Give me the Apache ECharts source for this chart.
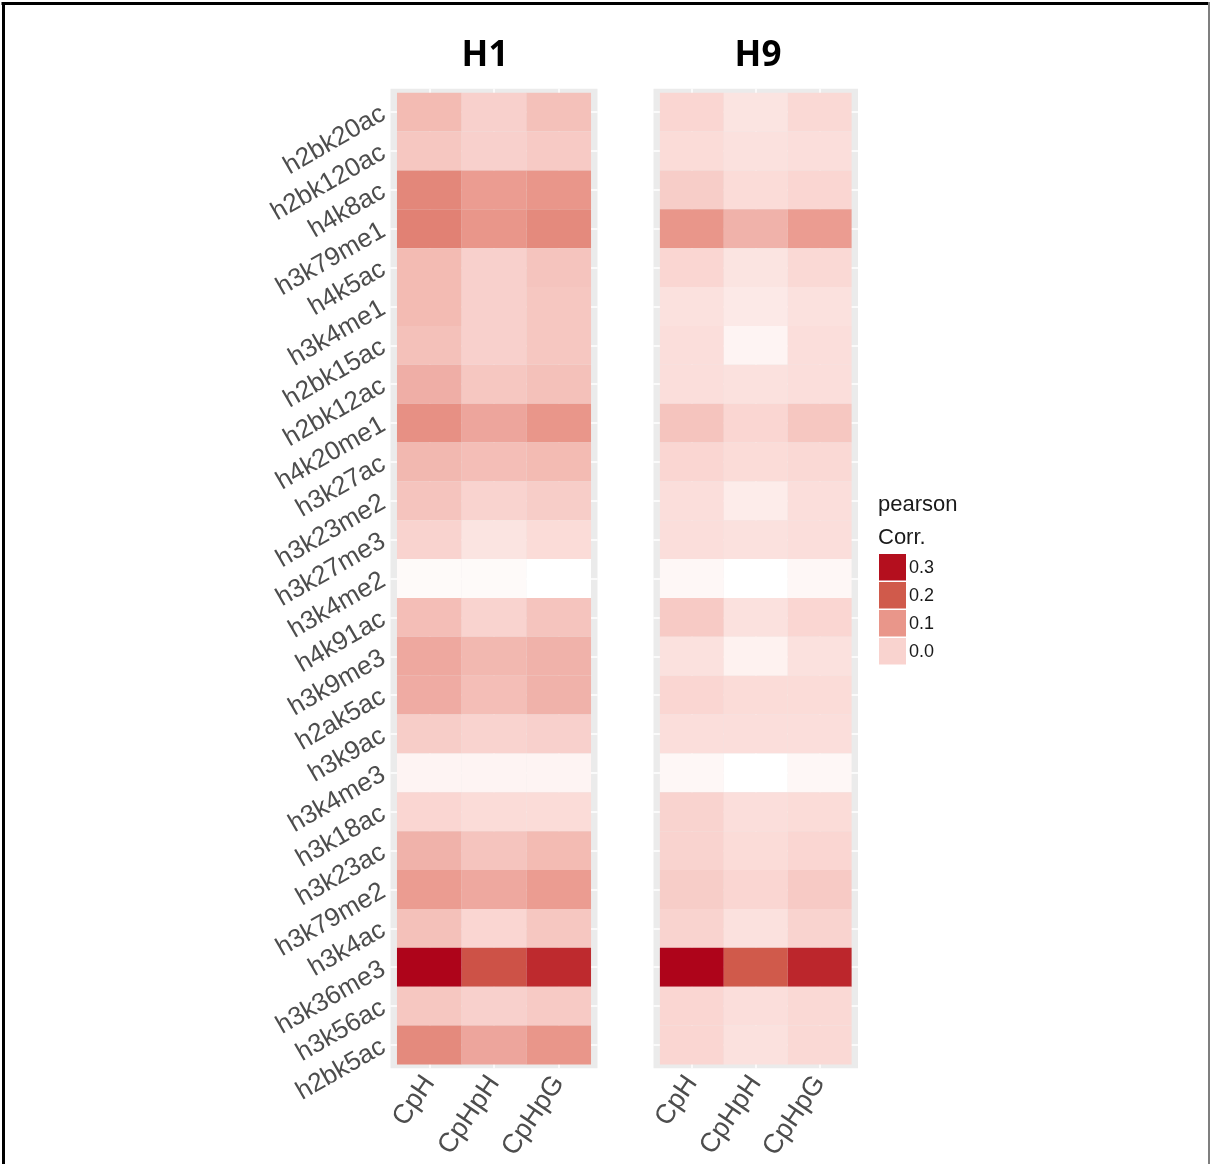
<!DOCTYPE html>
<html>
<head>
<meta charset="utf-8">
<script src="https://cdn.jsdelivr.net/npm/echarts@6/dist/echarts.min.js"></script>
<style>
  html, body { margin: 0; padding: 0; background: #ffffff; }
  #chart { width: 1210px; height: 1164px; }
</style>
</head>
<body>
<div id="chart"></div>
<script>
// Histone marks (rows, top to bottom) and methylation contexts (columns)
const marks = [
  'h2bk20ac', 'h2bk120ac', 'h4k8ac', 'h3k79me1', 'h4k5ac', 'h3k4me1', 'h2bk15ac',
  'h2bk12ac', 'h4k20me1', 'h3k27ac', 'h3k23me2', 'h3k27me3', 'h3k4me2', 'h4k91ac',
  'h3k9me3', 'h2ak5ac', 'h3k9ac', 'h3k4me3', 'h3k18ac', 'h3k23ac', 'h3k79me2',
  'h3k4ac', 'h3k36me3', 'h3k56ac', 'h2bk5ac'
];
const contexts = ['CpH', 'CpHpH', 'CpHpG'];
const panelTitles = ['H1', 'H9'];

// Pearson correlation per mark: [CpH, CpHpH, CpHpG]
const corrH1 = [
  [0.040, 0.005, 0.030],
  [0.020, 0.005, 0.015],
  [0.125, 0.090, 0.100],
  [0.135, 0.100, 0.120],
  [0.040, 0.005, 0.025],
  [0.040, 0.005, 0.020],
  [0.030, 0.005, 0.020],
  [0.060, 0.020, 0.030],
  [0.110, 0.075, 0.100],
  [0.045, 0.035, 0.040],
  [0.025, 0.000, 0.010],
  [0.000, -0.030, -0.015],
  [-0.070, -0.070, -0.080],
  [0.035, 0.000, 0.025],
  [0.070, 0.045, 0.055],
  [0.065, 0.035, 0.055],
  [0.010, 0.000, 0.005],
  [-0.060, -0.060, -0.060],
  [-0.005, -0.015, -0.015],
  [0.055, 0.025, 0.040],
  [0.090, 0.070, 0.090],
  [0.030, -0.005, 0.020],
  [0.315, 0.210, 0.265],
  [0.020, 0.005, 0.015],
  [0.120, 0.075, 0.100]
];
const corrH9 = [
  [-0.005, -0.030, -0.010],
  [-0.015, -0.025, -0.020],
  [0.010, -0.015, -0.005],
  [0.100, 0.055, 0.090],
  [-0.005, -0.030, -0.010],
  [-0.025, -0.040, -0.025],
  [-0.020, -0.060, -0.020],
  [-0.020, -0.025, -0.020],
  [0.025, -0.005, 0.020],
  [-0.005, -0.015, -0.010],
  [-0.020, -0.045, -0.020],
  [-0.020, -0.025, -0.020],
  [-0.065, -0.080, -0.065],
  [0.015, -0.025, -0.005],
  [-0.025, -0.055, -0.025],
  [-0.005, -0.015, -0.015],
  [-0.020, -0.020, -0.020],
  [-0.065, -0.080, -0.065],
  [0.000, -0.020, -0.015],
  [0.000, -0.015, -0.005],
  [0.010, -0.005, 0.015],
  [0.000, -0.025, 0.000],
  [0.315, 0.200, 0.270],
  [-0.005, -0.020, -0.010],
  [-0.005, -0.025, -0.010]
];
const legendBreaks = [0.3, 0.2, 0.1, 0.0];

// White-to-red fill ramp
const scaleMin = -0.08, scaleMax = 0.32;
const colorStops = [
  [-0.08, [255, 255, 255]],
  [0.00, [249, 211, 207]],
  [0.10, [233, 150, 138]],
  [0.20, [208, 90, 75]],
  [0.30, [180, 15, 30]],
  [0.32, [172, 0, 24]]
];
function colorAt(v) {
  if (v <= colorStops[0][0]) v = colorStops[0][0];
  for (let i = 1; i < colorStops.length; i++) {
    const [v1, c1] = colorStops[i];
    const [v0, c0] = colorStops[i - 1];
    if (v <= v1 || i === colorStops.length - 1) {
      const t = Math.max(0, Math.min(1, (v - v0) / (v1 - v0)));
      const c = c0.map((a, k) => Math.round(a + (c1[k] - a) * t));
      return 'rgb(' + c.join(',') + ')';
    }
  }
}
const ramp = [];
for (let i = 0; i <= 40; i++) ramp.push(colorAt(scaleMin + (scaleMax - scaleMin) * i / 40));

function toCells(matrix) {
  const out = [];
  matrix.forEach((row, r) => row.forEach((v, c) => out.push([c, r, v])));
  return out;
}

function renderTile(params, api) {
  const x = api.value(0), y = api.value(1);
  const a = api.coord([x - 0.5, y - 0.5]);
  const b = api.coord([x + 0.5, y + 0.5]);
  return {
    type: 'rect',
    shape: {
      x: Math.min(a[0], b[0]), y: Math.min(a[1], b[1]),
      width: Math.abs(b[0] - a[0]), height: Math.abs(b[1] - a[1])
    },
    style: { fill: api.visual('color') }
  };
}

const labelColor = '#4d4d4d';
const labelFont = 'Liberation Sans';
const rowIdx = marks.map((m, i) => i);
const colIdx = contexts.map((c, i) => i);

const panels = [
  { left: 390.5, width: 207, showLabels: true },
  { left: 653.5, width: 204.5, showLabels: false }
];

const option = {
  backgroundColor: '#ffffff',
  animation: false,
  grid: panels.map(p => ({
    left: p.left, top: 88.8, width: p.width, height: 979.5,
    show: true, backgroundColor: '#ebebeb', borderWidth: 0, containLabel: false
  })),
  xAxis: panels.map((p, i) => ({
    type: 'value', gridIndex: i, min: -0.6, max: 2.6,
    axisLine: { show: false },
    axisTick: { show: true, length: 4, customValues: colIdx, lineStyle: { color: '#333333', width: 1.5 } },
    axisLabel: {
      customValues: colIdx, rotate: 56, margin: 10,
      formatter: v => contexts[Math.round(v)] || '',
      color: labelColor, fontFamily: labelFont, fontSize: 27
    },
    splitLine: { show: true, lineStyle: { color: '#ffffff', width: 1.5 } }
  })),
  yAxis: panels.map((p, i) => ({
    type: 'value', gridIndex: i, min: -0.6, max: 24.6, inverse: true,
    axisLine: { show: false },
    axisTick: { show: true, length: 4, customValues: rowIdx, lineStyle: { color: '#333333', width: 1.5 } },
    axisLabel: {
      show: p.showLabels, customValues: rowIdx, rotate: 30, margin: 7,
      formatter: v => marks[Math.round(v)] || '',
      color: labelColor, fontFamily: labelFont, fontSize: 26
    },
    splitLine: { show: true, lineStyle: { color: '#ffffff', width: 1.5 } }
  })),
  visualMap: {
    type: 'continuous', show: false, dimension: 2, seriesIndex: [0, 1],
    min: scaleMin, max: scaleMax, inRange: { color: ramp }
  },
  series: [corrH1, corrH9].map((m, i) => ({
    type: 'custom', xAxisIndex: i, yAxisIndex: i,
    renderItem: renderTile, data: toCells(m),
    encode: { x: 0, y: 1 }
  })),
  graphic: [
    // panel titles
    { type: 'text', x: 485, y: 56, style: { text: panelTitles[0], fill: '#000', font: 'bold 35px "Open Sans"', textAlign: 'center', textVerticalAlign: 'middle' } },
    { type: 'text', x: 758, y: 56, style: { text: panelTitles[1], fill: '#000', font: 'bold 35px "Open Sans"', textAlign: 'center', textVerticalAlign: 'middle' } },
    // legend title
    { type: 'text', x: 878, y: 505, style: { text: 'pearson', fill: '#1a1a1a', font: '22px "Liberation Sans"', textVerticalAlign: 'middle' } },
    { type: 'text', x: 878, y: 538, style: { text: 'Corr.', fill: '#1a1a1a', font: '22px "Liberation Sans"', textVerticalAlign: 'middle' } },
    // legend keys
    ...legendBreaks.map((b, i) => ({
      type: 'rect', shape: { x: 879, y: 554 + i * 28, width: 27, height: 26.5 },
      style: { fill: colorAt(b) }
    })),
    ...legendBreaks.map((b, i) => ({
      type: 'text', x: 909, y: 568 + i * 28,
      style: { text: b.toFixed(1), fill: '#1a1a1a', font: '18px "Liberation Sans"', textVerticalAlign: 'middle' }
    })),
    // frame
    { type: 'line', shape: { x1: 1.5, y1: 3.5, x2: 1210, y2: 3.5 }, style: { stroke: '#000', lineWidth: 3 } },
    { type: 'line', shape: { x1: 3.5, y1: 2, x2: 3.5, y2: 1164 }, style: { stroke: '#000', lineWidth: 3 } },
    { type: 'line', shape: { x1: 1209, y1: 2, x2: 1209, y2: 1164 }, style: { stroke: '#7f7f7f', lineWidth: 2 } }
  ]
};

const chart = echarts.init(document.getElementById('chart'), null, { renderer: 'canvas' });
chart.setOption(option);
</script>
</body>
</html>
